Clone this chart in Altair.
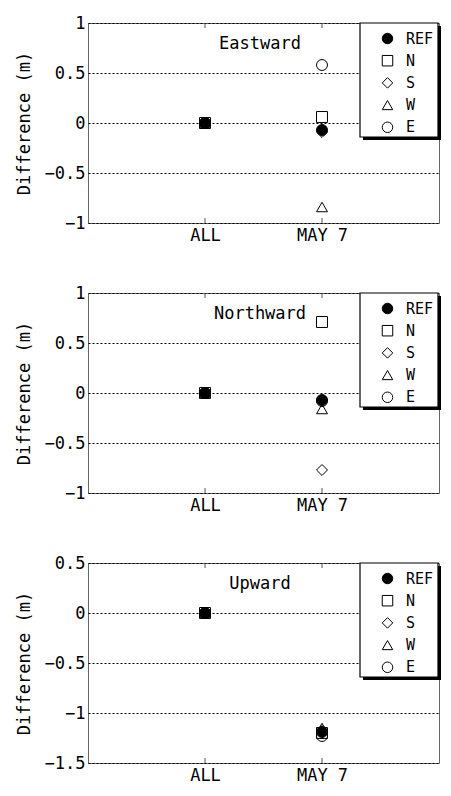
import json
import altair as alt
import pandas as pd

# ---- data ----
categories = ["ALL", "MAY 7"]
stations = ["REF", "N", "S", "W", "E"]
shapes = ["circle", "square", "diamond", "triangle-up", "circle"]
fills = ["black", "transparent", "transparent", "transparent", "transparent"]

east_all = [0.0, 0.0, 0.0, 0.0, 0.0]
east_may7 = [-0.07, 0.06, -0.09, -0.84, 0.58]

north_all = [0.0, 0.0, 0.0, 0.0, 0.0]
north_may7 = [-0.07, 0.71, -0.77, -0.16, -0.08]

up_all = [0.0, 0.0, 0.0, 0.0, 0.0]
up_may7 = [-1.19, -1.20, -1.18, -1.15, -1.23]

panel_titles = ["Eastward", "Northward", "Upward"]
panel_domains = [[-1, 1], [-1, 1], [-1.5, 0.5]]
panel_ticks = [[-1, -0.5, 0, 0.5, 1], [-1, -0.5, 0, 0.5, 1], [-1.5, -1, -0.5, 0, 0.5]]

FONT = "DejaVu Sans Mono"
W, H = 351, 200


def make_panel(title, all_vals, may_vals, domain, ticks):
    rows = []
    for i, (cat, vals) in enumerate(zip(categories, [all_vals, may_vals])):
        for st, v in zip(stations, vals):
            rows.append({"period": cat, "pos": i + 1, "station": st, "value": v})
    df = pd.DataFrame(rows)

    x_enc = alt.X(
        "pos:Q",
        scale=alt.Scale(domain=[0, len(categories) + 1], nice=False, zero=False),
        axis=alt.Axis(
            values=list(range(1, len(categories) + 1)),
            labelExpr=json.dumps(categories) + "[datum.value - 1]",
            title=None, ticks=False, domain=False, grid=False,
            labelFont=FONT, labelFontSize=17, labelColor="black", labelPadding=4,
        ),
    )
    y_enc = alt.Y(
        "value:Q",
        scale=alt.Scale(domain=domain, nice=False, zero=False),
        axis=alt.Axis(
            values=ticks, title="Difference (m)", format=".1~f",
            grid=True, gridDash=[2, 2], gridColor="black", gridOpacity=1, gridWidth=1,
            ticks=False, domain=False,
            labelFont=FONT, labelFontSize=17, labelColor="black", labelPadding=3,
            titleFont=FONT, titleFontSize=17, titleFontWeight="normal",
            titleColor="black", titlePadding=11,
        ),
    )

    leg = alt.Legend(
        orient="none", legendX=292, legendY=8, title=None,
        labelFont=FONT, labelFontSize=15, labelColor="black",
        rowPadding=6.2, symbolSize=110, symbolStrokeWidth=1,
        padding=0, labelOffset=11,
    )

    one = pd.DataFrame({"label": [title]})
    shadow = alt.Chart(one).mark_rect(fill="black").encode(
        x=alt.value(275), x2=alt.value(353), y=alt.value(3), y2=alt.value(117)
    )
    box = alt.Chart(one).mark_rect(fill="white", stroke="black", strokeWidth=1.2).encode(
        x=alt.value(272), x2=alt.value(350), y=alt.value(0), y2=alt.value(114)
    )
    tick_df = pd.DataFrame({"pos": list(range(1, len(categories) + 1))})
    tick_top = alt.Chart(tick_df).mark_rule(color="#555").encode(
        x=x_enc, y=alt.value(0), y2=alt.value(5)
    )
    tick_bot = alt.Chart(tick_df).mark_rule(color="#555").encode(
        x=x_enc, y=alt.value(H - 5), y2=alt.value(H)
    )
    label = alt.Chart(one).mark_text(
        font=FONT, fontSize=17, align="center", baseline="middle", color="black"
    ).encode(x=alt.value(172), y=alt.value(21), text="label:N")

    pts = alt.Chart(df).mark_point(
        filled=False, size=120, stroke="black", strokeWidth=1, opacity=1
    ).encode(
        x=x_enc,
        y=y_enc,
        shape=alt.Shape("station:N", scale=alt.Scale(domain=stations, range=shapes), legend=leg),
        fill=alt.Fill("station:N", scale=alt.Scale(domain=stations, range=fills), legend=leg),
    )
    return alt.layer(shadow, box, tick_top, tick_bot, label, pts).properties(width=W, height=H)


panels = [
    make_panel(panel_titles[0], east_all, east_may7, panel_domains[0], panel_ticks[0]),
    make_panel(panel_titles[1], north_all, north_may7, panel_domains[1], panel_ticks[1]),
    make_panel(panel_titles[2], up_all, up_may7, panel_domains[2], panel_ticks[2]),
]

chart = (
    alt.vconcat(*panels, spacing=39)
    .resolve_scale(shape="independent", fill="independent", y="independent", x="independent")
    .resolve_legend(shape="independent", fill="independent")
    .configure_view(stroke="#666", strokeWidth=1)
    .properties(padding={"left": 6, "top": 5, "right": 0, "bottom": 0}, background="white")
)

chart.save("out.html", embed_options={"renderer": "svg", "actions": False})
